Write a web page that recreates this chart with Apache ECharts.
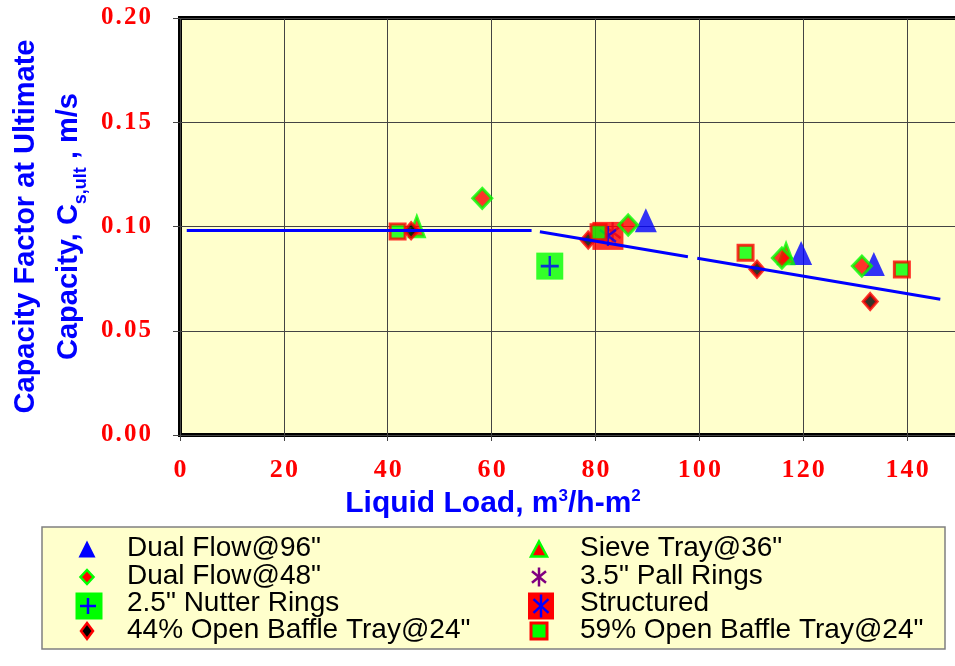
<!DOCTYPE html>
<html>
<head>
<meta charset="utf-8">
<script src="https://cdn.jsdelivr.net/npm/echarts@6/dist/echarts.min.js"></script>
<style>
  html, body { margin: 0; padding: 0; background: #ffffff; }
  #chart { width: 955px; height: 666px; }
</style>
</head>
<body>
<div id="chart"></div>
<script>
// ---- data: liquid load (m3/h-m2) vs. capacity factor Cs,ult (m/s) ----
const dualFlow96  = [[89.7, 0.1030], [119.6, 0.0873], [133.6, 0.0820]];
const dualFlow48  = [[58.2, 0.1135], [86.3, 0.1007], [115.9, 0.0849], [131.3, 0.0810]];
const nutterRings = [[71.2, 0.0810]];
const baffle44    = [[44.5, 0.0980], [78.6, 0.0935], [111.1, 0.0795], [132.9, 0.0640]];
const sieveTray36 = [[45.6, 0.1000], [116.7, 0.0870]];
const pallRings   = [[83.3, 0.0973]];
const structured  = [[82.4, 0.0955]];
const baffle59    = [[41.9, 0.0976], [80.6, 0.0972], [108.9, 0.0874], [139.0, 0.0794]];

// correlation line, drawn as three pieces
const fitSegment1 = [[1.3, 0.0981], [67.7, 0.0981]];
const fitSegment2 = [[69.3, 0.0975], [97.8, 0.0855]];
const fitSegment3 = [[99.6, 0.0848], [146.4, 0.0651]];

const xTickStep = 20;
const yTickStep = 0.05;

const legendNames = [
  'Dual Flow@96"', 'Dual Flow@48"', '2.5" Nutter Rings', '44% Open Baffle Tray@24"',
  'Sieve Tray@36"', '3.5" Pall Rings', 'Structured', '59% Open Baffle Tray@24"'
];

// ---- styling ----
const BLUE = '#0000ff', GREEN = '#00ff00', RED = '#ff0000', PURPLE = '#800080', BLACK = '#000000';
const SANS = '"Liberation Sans", Arial, sans-serif';
const SERIF = '"Liberation Serif", "Times New Roman", serif';
const ASTERISK = 'path://M10,0L10,20M2,4L18,16M2,16L18,4';
const PLUS = 'path://M0,10L20,10M10,0L10,20';

// spread tick label characters apart
function spaced(str, gap) { return str.split('').join(gap); }

function scatter(name, data, symbol, size, itemStyle) {
  return {
    type: 'scatter', name: name, data: data, symbol: symbol, symbolSize: size,
    itemStyle: itemStyle, emphasis: { disabled: true }, silent: true
  };
}
function fitLine(data) {
  return {
    type: 'line', data: data, showSymbol: false, silent: true,
    lineStyle: { color: BLUE, width: 3 }, emphasis: { disabled: true }
  };
}

const series = [
  fitLine(fitSegment1), fitLine(fitSegment2), fitLine(fitSegment3),
  scatter(legendNames[0], dualFlow96, 'triangle', [22, 24], { color: BLUE }),
  scatter(legendNames[4], sieveTray36, 'triangle', [15, 20], { color: RED, borderColor: GREEN, borderWidth: 3 }),
  scatter(legendNames[3], baffle44, 'diamond', [14, 16], { color: BLACK, borderColor: RED, borderWidth: 3 }),
  scatter(legendNames[5], pallRings, ASTERISK, [16, 20], { color: 'none', borderColor: PURPLE, borderWidth: 2.5 }),
  scatter(legendNames[6], structured, 'rect', [31, 28], { color: RED }),
  scatter(legendNames[6], structured, ASTERISK, [16, 20], { color: 'none', borderColor: BLUE, borderWidth: 2.5 }),
  scatter(legendNames[2], nutterRings, 'rect', [27, 27], { color: GREEN }),
  scatter(legendNames[2], nutterRings, PLUS, [18, 20], { color: 'none', borderColor: BLUE, borderWidth: 2.5 }),
  scatter(legendNames[7], baffle59, 'rect', [15, 15], { color: GREEN, borderColor: RED, borderWidth: 3 }),
  scatter(legendNames[1], dualFlow48, 'diamond', [19, 20], { color: RED, borderColor: GREEN, borderWidth: 3 })
];

// ---- legend box built from graphic elements ----
function tri(cx, cy, w, h, fill, stroke, lw) {
  return { type: 'polygon', shape: { points: [[cx, cy - h / 2], [cx + w / 2, cy + h / 2], [cx - w / 2, cy + h / 2]] },
           style: { fill: fill, stroke: stroke || null, lineWidth: lw || 0 } };
}
function diamond(cx, cy, w, h, fill, stroke, lw) {
  return { type: 'polygon', shape: { points: [[cx, cy - h / 2], [cx + w / 2, cy], [cx, cy + h / 2], [cx - w / 2, cy]] },
           style: { fill: fill, stroke: stroke || null, lineWidth: lw || 0 } };
}
function box(cx, cy, w, h, fill, stroke, lw) {
  return { type: 'rect', shape: { x: cx - w / 2, y: cy - h / 2, width: w, height: h },
           style: { fill: fill, stroke: stroke || null, lineWidth: lw || 0 } };
}
function seg(x1, y1, x2, y2, color, lw) {
  return { type: 'line', shape: { x1: x1, y1: y1, x2: x2, y2: y2 }, style: { stroke: color, lineWidth: lw } };
}
function asterisk(cx, cy, w, h, color) {
  return [
    seg(cx, cy - h / 2, cx, cy + h / 2, color, 2.5),
    seg(cx - w / 2, cy - h * 0.3, cx + w / 2, cy + h * 0.3, color, 2.5),
    seg(cx - w / 2, cy + h * 0.3, cx + w / 2, cy - h * 0.3, color, 2.5)
  ];
}
function plus(cx, cy, s, color) {
  return [seg(cx - s / 2, cy, cx + s / 2, cy, color, 2.5), seg(cx, cy - s / 2, cx, cy + s / 2, color, 2.5)];
}

const rowY = [548, 576, 603, 630];
const col1Marker = 87, col1Text = 127, col2Marker = 539, col2Text = 580;

const legendMarkers = [
  [tri(col1Marker, rowY[0] + 1, 17, 17, BLUE)],
  [diamond(col1Marker, rowY[1] + 1, 13, 14, RED, GREEN, 2.5)],
  [box(col1Marker + 2, rowY[2] + 3, 27, 27, GREEN)].concat(plus(col1Marker + 1, rowY[2] + 3, 16, BLUE)),
  [diamond(col1Marker, rowY[3] + 1, 12, 16, BLACK, RED, 2.5)],
  [tri(col2Marker, rowY[0] + 1, 16, 15, RED, GREEN, 2.5)],
  asterisk(col2Marker, rowY[1] + 1, 14, 19, PURPLE),
  [box(col2Marker + 2, rowY[2] + 3, 26, 27, RED)].concat(asterisk(col2Marker + 2, rowY[2] + 3, 15, 23, BLUE)),
  [box(col2Marker, rowY[3] + 1, 16, 16, GREEN, RED, 3)]
];

const legendElements = [
  { type: 'rect', shape: { x: 42, y: 527, width: 903, height: 122 },
    style: { fill: '#ffffcc', stroke: '#808080', lineWidth: 1.5 } }
];
legendNames.forEach(function (name, i) {
  const col = i < 4 ? 0 : 1;
  const row = i % 4;
  legendMarkers[i].forEach(function (el) { legendElements.push(el); });
  legendElements.push({
    type: 'text',
    style: {
      text: name, x: col === 0 ? col1Text : col2Text, y: rowY[row],
      fill: BLACK, font: '28px ' + SANS,
      textAlign: 'left', textVerticalAlign: 'middle', align: 'left', verticalAlign: 'middle'
    }
  });
});

const chart = echarts.init(document.getElementById('chart'), null, { renderer: 'canvas' });
chart.setOption({
  animation: false,
  backgroundColor: '#ffffff',
  grid: {
    left: 180, top: 18, width: 779, height: 417,
    outerBoundsMode: 'none', containLabel: false,
    show: true, backgroundColor: '#ffffcc', borderColor: '#000000', borderWidth: 4
  },
  xAxis: {
    type: 'value', min: 0, max: 150, interval: xTickStep,
    axisLine: { show: false },
    axisTick: { show: true, length: 6, lineStyle: { color: '#444444', width: 1 } },
    axisLabel: {
      color: RED, fontFamily: SERIF, fontWeight: 'bold', fontSize: 26, margin: 22,
      showMaxLabel: false,
      formatter: function (v) { return spaced(String(v), '\u200A'); }
    },
    splitLine: { show: true, lineStyle: { color: '#444444', width: 1 } },
    name: 'Liquid Load, m{sup|3}/h-m{sup|2}',
    nameLocation: 'middle', nameGap: 47,
    nameTextStyle: {
      color: BLUE, fontFamily: SANS, fontWeight: 'bold', fontSize: 30, lineHeight: 32,
      padding: [0, 153, 0, 0],
      rich: { sup: { color: BLUE, fontFamily: SANS, fontWeight: 'bold', fontSize: 17, lineHeight: 18, verticalAlign: 'top' } }
    }
  },
  yAxis: {
    type: 'value', min: 0, max: 0.2, interval: yTickStep,
    axisLine: { show: false },
    axisTick: { show: true, length: 7, lineStyle: { color: '#444444', width: 1 } },
    axisLabel: {
      color: RED, fontFamily: SERIF, fontWeight: 'bold', fontSize: 25, margin: 29,
      formatter: function (v) { return spaced(v.toFixed(2), '\u200A'); }
    },
    splitLine: { show: true, lineStyle: { color: '#444444', width: 1 } },
    name: 'Capacity Factor at Ultimate\nCapacity, C{sub|s,ult} , m/s',
    nameLocation: 'middle', nameGap: 89,
    nameTextStyle: {
      color: BLUE, fontFamily: SANS, fontWeight: 'bold', fontSize: 29, lineHeight: 43, align: 'center',
      rich: { sub: { color: BLUE, fontFamily: SANS, fontWeight: 'bold', fontSize: 18, lineHeight: 20, verticalAlign: 'bottom' } }
    }
  },
  graphic: { elements: legendElements },
  series: series
});
</script>
</body>
</html>
